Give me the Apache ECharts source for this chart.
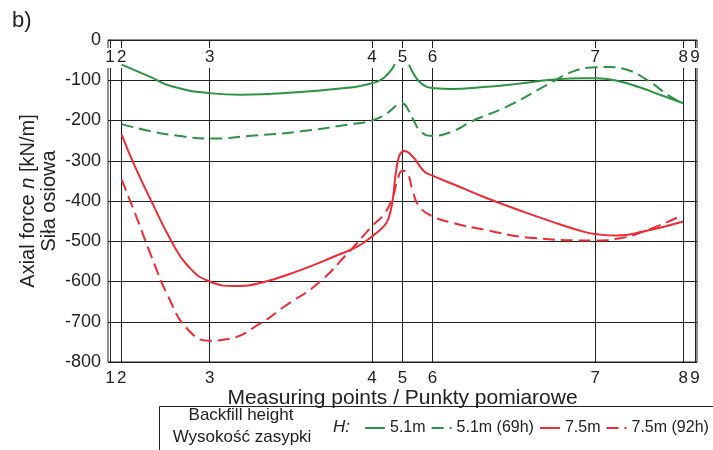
<!DOCTYPE html>
<html>
<head>
<meta charset="utf-8">
<script src="https://cdn.jsdelivr.net/npm/echarts@6.0.0/dist/echarts.min.js"></script>
<style>
html, body { margin: 0; padding: 0; background: #fff; }
#chart { width: 713px; height: 450px; }
</style>
</head>
<body>
<div id="chart"></div>
<script>
// positions of the measuring points along the structure (relative units)
const stationPos = [0, 1.2, 10.22, 26.86, 30.0, 33.07, 49.76, 58.8, 60];
const stationLabels = ['1', '2', '3', '4', '5', '6', '7', '8', '9'];

// H = 5.1m
const g51X = [1.2, 4.26, 6.31, 10.22, 13.47, 19.6, 24.71, 25.73, 26.93, 27.78, 28.47, 28.98, 29.21, 30.0,
    30.67, 31.19, 31.7, 32.38, 33.07, 34.94, 38.31, 41.76, 45.16, 48.54, 49.76, 51.98, 54.37, 56.4, 58.8];
const g51Y = [-61, -93, -115, -132, -136, -129, -118, -114, -107, -99, -85, -70, -60, null,
    -61, -86, -103, -115, -119, -122, -117, -109, -99, -95, -95, -101, -118, -136, -157];

// H = 5.1m (69h)
const g69X = [1.2, 4.26, 7.0, 10.22, 14.49, 19.6, 24.71, 26.86, 28.47, 29.49, 30.0, 30.67, 31.19, 31.87,
    32.9, 34.94, 37.29, 40.74, 45.16, 47.52, 49.76, 50.96, 53.0, 55.05, 57.43, 58.8];
const g69Y = [-209, -227, -238, -245, -238, -227, -209, -200, -181, -161, -158, -177, -202, -227,
    -238, -229, -200, -165, -107, -78, -68, -67, -74, -99, -140, -158];

// H = 7.5m
const r75X = [1.2, 2.56, 4.26, 6.31, 8.02, 10.22, 12.78, 15.51, 19.6, 23.0, 25.4, 26.86, 28.12, 28.6, 28.98,
    29.31, 29.65, 29.93, 30.16, 31.02, 32.21, 33.07, 35.28, 38.34, 41.76, 45.16, 48.54, 49.76, 51.98, 54.7, 58.8];
const r75Y = [-235, -314, -401, -500, -562, -600, -611, -603, -571, -538, -513, -488, -462, -440, -400,
    -331, -289, -278, -276, -289, -326, -337, -359, -390, -421, -450, -476, -482, -486, -476, -451];

// H = 7.5m (92h)
const r92X = [1.2, 2.56, 4.26, 5.97, 8.02, 10.22, 12.11, 15.51, 17.89, 21.31, 24.71, 26.86, 28.12, 28.98,
    29.49, 30.0, 30.51, 31.02, 31.7, 33.07, 35.28, 38.34, 43.46, 49.76, 51.98, 54.7, 58.45];
const r92Y = [-347, -430, -538, -637, -720, -747, -743, -703, -662, -605, -521, -463, -432, -392,
    -347, -325, -331, -372, -413, -438, -455, -471, -492, -498, -494, -476, -438];

const FONT = '"Liberation Sans", Arial, sans-serif';
const GREEN = '#2b9443';
const RED = '#ee2b33';
const INK = '#222';

function pairs(xs, ys) {
    return xs.map((x, i) => [x, ys[i] === null ? '-' : ys[i]]);
}
function stationName(v) {
    let best = 0;
    stationPos.forEach((p, i) => {
        if (Math.abs(p - v) < Math.abs(stationPos[best] - v)) best = i;
    });
    return stationLabels[best];
}
function lineSeries(name, xs, ys, color, dashed) {
    return {
        name: name,
        type: 'line',
        data: pairs(xs, ys),
        smooth: 0.5,
        symbol: 'none',
        connectNulls: false,
        lineStyle: { color: color, width: 2, type: dashed ? [12, 6] : 'solid' },
        itemStyle: { color: color }
    };
}

const chart = echarts.init(document.getElementById('chart'));
const option = {
    animation: false,
    textStyle: { fontFamily: FONT },
    title: {
        text: 'b)', left: 7, top: 5,
        textStyle: { fontSize: 22, fontWeight: 'normal', color: INK, fontFamily: FONT }
    },
    grid: {
        left: 108, right: 16, top: 40, bottom: 88,
        show: true, borderColor: INK, borderWidth: 1,
        outerBoundsMode: 'none'
    },
    legend: {
        left: 364, top: 420, width: 360, padding: 0,
        itemWidth: 20, itemHeight: 14, itemGap: 5,
        itemStyle: { opacity: 0 },
        textStyle: { fontSize: 16, color: INK, fontFamily: FONT },
        data: ['5.1m', '5.1m (69h)', '7.5m', '7.5m (92h)']
    },
    xAxis: [
        {
            type: 'value', position: 'bottom', min: -0.2, max: 60.2,
            name: 'Measuring points / Punkty pomiarowe',
            nameLocation: 'middle', nameGap: 26, nameMoveOverlap: false,
            nameTextStyle: { fontSize: 21, color: INK, fontFamily: FONT },
            axisLine: { show: false },
            axisTick: { show: false, customValues: stationPos },
            axisLabel: {
                customValues: stationPos, formatter: stationName,
                fontSize: 17, color: INK, margin: 8, fontFamily: FONT
            },
            splitLine: { show: true, lineStyle: { color: INK, width: 1 } }
        },
        {
            type: 'value', position: 'top', min: -0.2, max: 60.2,
            axisLine: { show: false },
            axisTick: { show: true, inside: true, length: 4, customValues: stationPos, lineStyle: { color: INK } },
            axisLabel: {
                inside: true, customValues: stationPos, formatter: stationName,
                margin: 8, backgroundColor: '#fff', padding: [1, 1, 2, 1],
                fontSize: 17, color: INK, fontFamily: FONT
            },
            splitLine: { show: false }
        }
    ],
    yAxis: {
        type: 'value', min: -800, max: 0, interval: 100,
        name: 'Axial force {i|n} [kN/m]\nSiła osiowa',
        nameLocation: 'middle', nameRotate: 90, nameGap: 48, nameMoveOverlap: false,
        nameTextStyle: {
            fontSize: 20, color: INK, lineHeight: 21, fontFamily: FONT,
            rich: { i: { fontStyle: 'italic', fontSize: 20, lineHeight: 21, color: INK, fontFamily: FONT } }
        },
        axisLine: { show: true, lineStyle: { color: INK } },
        axisTick: { show: false },
        axisLabel: { fontSize: 18, color: INK, margin: 7, fontFamily: FONT },
        splitLine: { show: true, lineStyle: { color: INK, width: 1 } }
    },
    graphic: [
        {
            type: 'rect', left: 157, top: 404, silent: true,
            shape: { width: 554, height: 80 },
            style: { fill: 'none', stroke: INK, lineWidth: 1 }
        },
        {
            type: 'text', x: 241, y: 415, silent: true,
            style: { text: 'Backfill height', fontSize: 17, fill: INK, fontFamily: FONT, align: 'center', verticalAlign: 'middle' }
        },
        {
            type: 'text', x: 242, y: 437, silent: true,
            style: { text: 'Wysokość zasypki', fontSize: 17, fill: INK, fontFamily: FONT, align: 'center', verticalAlign: 'middle' }
        },
        {
            type: 'text', x: 333, y: 427, silent: true,
            style: { text: 'H:', fontSize: 17, fontStyle: 'italic', fill: INK, fontFamily: FONT, verticalAlign: 'middle' }
        }
    ],
    series: [
        lineSeries('5.1m', g51X, g51Y, GREEN, false),
        lineSeries('5.1m (69h)', g69X, g69Y, GREEN, true),
        lineSeries('7.5m', r75X, r75Y, RED, false),
        lineSeries('7.5m (92h)', r92X, r92Y, RED, true)
    ]
};
chart.setOption(option);
</script>
</body>
</html>
